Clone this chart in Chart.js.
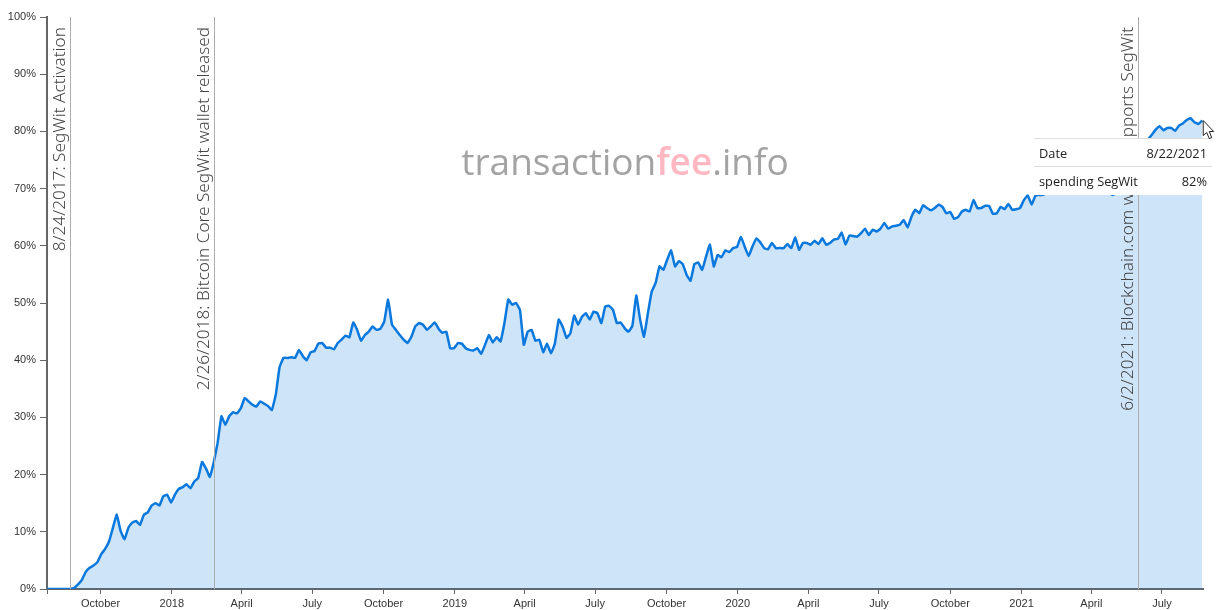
<!DOCTYPE html>
<html>
<head>
<meta charset="utf-8">
<title>SegWit usage</title>
<script src="https://cdn.jsdelivr.net/npm/chart.js@4/dist/chart.umd.min.js"></script>
<style>
html, body { margin: 0; padding: 0; background: #fff; }
#wrap { width: 1217px; height: 610px; }
</style>
</head>
<body>
<div id="wrap"><canvas id="myChart" width="1217" height="610"></canvas></div>
<script>
const DAY = 86400000;
const startDate = Date.UTC(2017, 6, 24);
const stepDays = 5;

// share of bitcoin payments spending SegWit, one reading every 5 days
const segwitValues = [
  0, 0, 0, 0, 0, 0, 0, 0.2, 0.8, 1.6, 3.0, 3.7, 4.1, 4.7, 6.1, 7.0, 8.3, 10.7, 13.0, 10.1,
  8.7, 10.7, 11.6, 11.9, 11.2, 13.0, 13.4, 14.6, 15.0, 14.6, 16.2, 16.5, 15.1, 16.5, 17.5, 17.8, 18.3, 17.6, 18.8, 19.4,
  22.2, 21.1, 19.6, 22.1, 25.5, 30.2, 28.7, 30.2, 30.9, 30.7, 31.6, 33.4, 32.8, 32.2, 31.9, 32.8, 32.4, 32.0, 31.3, 33.9,
  38.8, 40.4, 40.4, 40.5, 40.4, 41.8, 40.7, 40.0, 41.4, 41.6, 42.9, 43.0, 42.2, 42.2, 41.9, 43.0, 43.6, 44.3, 44.0, 46.6,
  45.3, 43.4, 44.4, 45.0, 45.9, 45.3, 45.5, 46.8, 50.6, 46.2, 45.3, 44.4, 43.6, 43.0, 44.1, 45.9, 46.5, 46.2, 45.3, 45.9,
  46.6, 45.5, 44.8, 45.0, 42.1, 42.1, 43.0, 42.9, 42.1, 41.8, 41.7, 42.1, 41.1, 42.7, 44.4, 43.1, 44.0, 43.3, 46.5, 50.6,
  49.7, 50.0, 48.8, 42.7, 45.0, 45.3, 43.4, 43.6, 41.4, 42.9, 41.2, 42.9, 47.1, 45.9, 43.9, 44.7, 47.8, 46.2, 47.6, 48.2,
  47.1, 48.5, 48.2, 46.5, 49.4, 49.5, 48.8, 46.5, 46.6, 45.6, 45.0, 46.0, 51.3, 47.1, 44.1, 48.2, 52.0, 53.5, 56.4, 55.8,
  57.6, 59.2, 56.4, 57.3, 56.8, 54.9, 53.9, 56.8, 57.1, 55.8, 58.1, 60.2, 56.4, 58.4, 58.0, 59.2, 58.9, 59.6, 59.8, 61.6,
  59.8, 58.2, 59.9, 61.3, 60.6, 59.6, 59.4, 60.5, 59.6, 59.6, 59.6, 60.3, 59.6, 61.5, 59.3, 60.5, 60.5, 60.2, 60.9, 60.3,
  61.3, 60.2, 60.5, 61.1, 61.2, 62.3, 60.2, 61.8, 61.7, 61.6, 62.2, 63.0, 61.9, 62.8, 62.5, 63.0, 64.0, 63.0, 63.4, 63.5,
  63.7, 64.5, 63.2, 65.1, 66.3, 65.7, 67.1, 66.6, 66.2, 66.6, 67.2, 66.8, 65.7, 65.9, 64.7, 65.0, 66.0, 66.3, 66.0, 68.0,
  66.6, 66.6, 67.0, 67.0, 65.6, 65.7, 66.8, 66.4, 67.3, 66.3, 66.4, 66.6, 68.0, 68.8, 67.2, 68.8, 68.9, 68.9, 69.5, 70.0,
  70.4, 71.0, 71.3, 71.8, 71.5, 72.0, 72.4, 72.1, 71.5, 71.0, 70.5, 70.2, 70.0, 69.6, 69.2, 68.9, 69.5, 71.0, 73.0, 74.5,
  75.5, 76.5, 77.3, 78.0, 78.6, 79.4, 80.3, 80.9, 80.2, 80.6, 80.6, 80.1, 81.0, 81.4, 82.0, 82.3, 81.6, 81.3, 81.9
];

const tickDates = [
  [2017, 6, 24], [2017, 9, 1], [2018, 0, 1], [2018, 3, 1], [2018, 6, 1], [2018, 9, 1], [2019, 0, 1], [2019, 3, 1],
  [2019, 6, 1], [2019, 9, 1], [2020, 0, 1], [2020, 3, 1], [2020, 6, 1], [2020, 9, 1], [2021, 0, 1], [2021, 3, 1], [2021, 6, 1]
];
const tickLabels = [
  "", "October", "2018", "April", "July", "October", "2019", "April",
  "July", "October", "2020", "April", "July", "October", "2021", "April", "July"
];

const eventDates = [[2017, 7, 24], [2018, 1, 26], [2021, 5, 2]];
const eventLabels = [
  "8/24/2017: SegWit Activation",
  "2/26/2018: Bitcoin Core SegWit wallet released",
  "6/2/2021: Blockchain.com wallet supports SegWit"
];

const tooltipRows = [["Date", "8/22/2021"], ["spending SegWit", "82%"]];
const brandParts = [["transaction", "#a3a3a3", "400"], ["fee", "#ffb7c2", "600"], [".info", "#a3a3a3", "400"]];

const tickTimes = tickDates.map((d) => Date.UTC(d[0], d[1], d[2]));
const points = segwitValues.map((v, i) => {
  return { x: startDate + i * stepDays * DAY, y: v };
});
const endDate = points[points.length - 1].x + DAY;

const extras = {
  id: "extras",
  afterDatasetsDraw(chart) {
    const ctx = chart.ctx;
    const area = chart.chartArea;
    const xScale = chart.scales.x;

    // event lines with their rotated captions
    eventDates.forEach((d, i) => {
      const x = Math.floor(xScale.getPixelForValue(Date.UTC(d[0], d[1], d[2]))) - 0.5;
      ctx.save();
      ctx.strokeStyle = "#adadad";
      ctx.lineWidth = 1;
      ctx.beginPath();
      ctx.moveTo(x, area.top);
      ctx.lineTo(x, area.bottom);
      ctx.stroke();
      ctx.translate(x - 2, area.top + 10);
      ctx.rotate(-Math.PI / 2);
      ctx.font = "300 17.2px 'Noto Sans'";
      ctx.fillStyle = "#444";
      ctx.textAlign = "right";
      ctx.textBaseline = "bottom";
      ctx.fillText(eventLabels[i], 0, 0);
      ctx.restore();
    });

    // site name in the middle
    ctx.save();
    ctx.textBaseline = "middle";
    ctx.textAlign = "left";
    let total = 0;
    brandParts.forEach((p) => {
      ctx.font = p[2] + " 37px 'Open Sans'";
      total += ctx.measureText(p[0]).width;
    });
    let bx = (area.left + area.right) / 2 - total / 2;
    brandParts.forEach((p) => {
      ctx.font = p[2] + " 37px 'Open Sans'";
      ctx.fillStyle = p[1];
      ctx.fillText(p[0], bx, 164);
      bx += ctx.measureText(p[0]).width;
    });
    ctx.restore();

    // hover box
    const tipLeft = 1034, tipRight = 1212, tipTop = 138, rowH = 28.5;
    ctx.save();
    ctx.fillStyle = "#fff";
    ctx.fillRect(tipLeft, tipTop, tipRight - tipLeft, rowH * 2);
    ctx.strokeStyle = "#ddd";
    ctx.lineWidth = 1;
    [tipTop, tipTop + 28].forEach((y) => {
      ctx.beginPath();
      ctx.moveTo(tipLeft, y + 0.5);
      ctx.lineTo(tipRight, y + 0.5);
      ctx.stroke();
    });
    ctx.font = "12.8px 'Open Sans'";
    ctx.fillStyle = "#222";
    ctx.textBaseline = "middle";
    tooltipRows.forEach((row, i) => {
      const y = tipTop + rowH * i + 16;
      ctx.textAlign = "left";
      ctx.fillText(row[0], tipLeft + 5, y);
      ctx.textAlign = "right";
      ctx.fillText(row[1], tipRight - 5, y);
    });
    ctx.restore();

    // mouse pointer sitting on the last point
    const last = chart.getDatasetMeta(0).data[points.length - 1];
    const cx = last.x + 1, cy = last.y;
    ctx.save();
    ctx.translate(cx, cy);
    ctx.fillStyle = "#fff";
    ctx.strokeStyle = "#222";
    ctx.lineWidth = 1;
    ctx.beginPath();
    ctx.moveTo(0, 0);
    ctx.lineTo(0, 15);
    ctx.lineTo(3.5, 12);
    ctx.lineTo(6, 18);
    ctx.lineTo(8.5, 17);
    ctx.lineTo(6, 11);
    ctx.lineTo(10.5, 11);
    ctx.closePath();
    ctx.fill();
    ctx.stroke();
    ctx.restore();
  }
};

const config = {
  type: "line",
  data: {
    datasets: [{
      label: "spending SegWit",
      data: points,
      borderColor: "#0a78dc",
      backgroundColor: "rgba(10, 120, 224, 0.2)",
      borderWidth: 2.5,
      fill: "origin",
      pointRadius: 0,
      tension: 0.1
    }]
  },
  plugins: [extras],
  options: {
    responsive: false,
    animation: false,
    layout: { padding: { left: 0, right: 14, top: 17, bottom: 0 } },
    plugins: { legend: { display: false }, tooltip: { enabled: false } },
    scales: {
      x: {
        type: "linear",
        min: startDate,
        max: endDate,
        afterFit: (s) => { s.height = 21; },
        afterBuildTicks: (s) => { s.ticks = tickTimes.map((t) => ({ value: t })); },
        border: { color: "#666", width: 2 },
        grid: { drawOnChartArea: false, drawTicks: true, tickLength: 5, color: "#666" },
        ticks: {
          autoSkip: false,
          maxRotation: 0,
          padding: 3,
          color: "#333",
          font: { family: "'Liberation Sans'", size: 11 },
          callback: (v) => tickLabels[tickTimes.indexOf(v)]
        }
      },
      y: {
        min: 0,
        max: 100,
        afterFit: (s) => { s.width = 47; },
        border: { color: "#666", width: 2 },
        grid: { drawOnChartArea: false, drawTicks: true, tickLength: 7, color: "#666" },
        ticks: {
          stepSize: 10,
          padding: 4,
          color: "#333",
          font: { family: "'Liberation Sans'", size: 11 },
          callback: (v) => v + "%"
        }
      }
    }
  }
};

new Chart(document.getElementById("myChart"), config);
</script>
</body>
</html>
